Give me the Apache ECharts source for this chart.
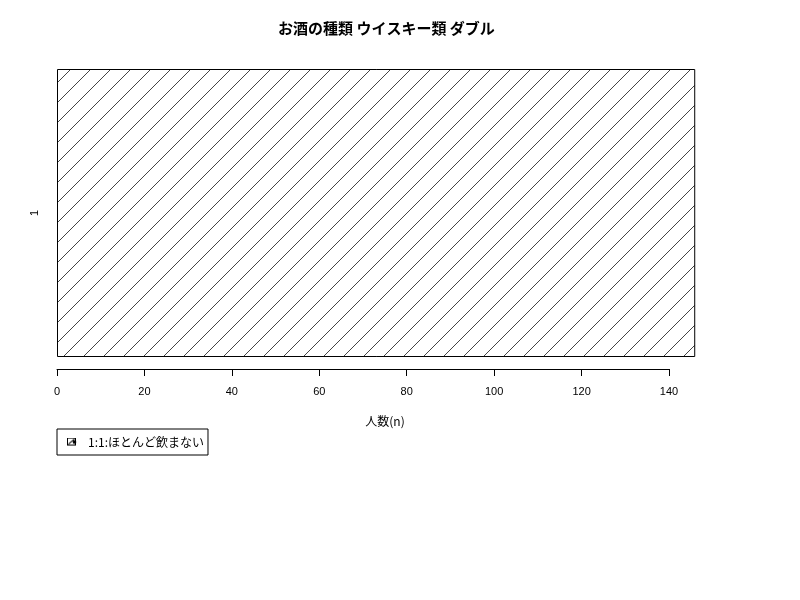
<!DOCTYPE html>
<html><head><meta charset="utf-8">
<script src="https://cdn.jsdelivr.net/npm/echarts@6/dist/echarts.min.js"></script>
<style>html,body{margin:0;padding:0;background:#fff}#c{width:800px;height:600px}</style>
</head><body><div id="c"></div>
<script>
const categories = ['1'];
const values = [146];
const seriesName = '1:1:ほとんど飲まない';
const xTicksMax = 140;
const xInterval = 20;
const titleText = 'お酒の種類 ウイスキー類 ダブル';
const xAxisName = '人数(n)';

function hatch(size){
  const c = document.createElement('canvas');
  c.width = size; c.height = size;
  const g = c.getContext('2d');
  g.fillStyle = '#fff'; g.fillRect(0,0,size,size);
  g.strokeStyle = '#444'; g.lineWidth = 1;
  g.beginPath();
  g.moveTo(-2, size+2); g.lineTo(size+2, -2);
  g.moveTo(-2, 2); g.lineTo(2, -2);
  g.moveTo(size-2, size+2); g.lineTo(size+2, size-2);
  g.stroke();
  return c;
}
function legendIcon(){
  const c = document.createElement('canvas');
  c.width = 20; c.height = 18;
  const g = c.getContext('2d');
  g.fillStyle = '#fff'; g.fillRect(0,0,20,18);
  g.strokeStyle = '#000'; g.lineWidth = 2;
  g.strokeRect(1,1,16,14);
  g.beginPath(); g.moveTo(3,13); g.lineTo(15,3); g.stroke();
  g.fillStyle = '#000';
  g.beginPath(); g.arc(15,9,3.5,0,Math.PI*2); g.fill();
  return c.toDataURL();
}
const pat = {image: hatch(20), repeat: 'repeat'};
const pxPerUnit = (669-57)/140;
const plotRight = 57 + values[0]*pxPerUnit;
const font = 'Liberation Sans, Arial, sans-serif';
const cjk = 'Noto Sans CJK JP, sans-serif';

const chart = echarts.init(document.getElementById('c'));
chart.setOption({
  animation: false,
  backgroundColor: '#fff',
  graphic: [
    {type: 'text', left: 386 - 108, top: 21,
      style: {text: titleText, font: 'bold 15px ' + cjk, fill: '#000'}},
    {type: 'text', x: 385, y: 421,
      style: {text: xAxisName, font: '12px ' + cjk, fill: '#000', textAlign: 'center', textVerticalAlign: 'middle'}}
  ],
  legend: {
    left: 57, top: 429, orient: 'vertical',
    padding: [7, 4, 7, 10], borderColor: '#000', borderWidth: 1, borderRadius: 0,
    itemWidth: 10, itemHeight: 9, itemGap: 5,
    textStyle: {fontFamily: cjk, fontSize: 12, color: '#000', padding: [0,0,0,6]},
    data: [{name: seriesName, icon: 'image://' + legendIcon()}]
  },
  grid: [
    {left: 57, right: 800 - plotRight, top: 69, bottom: 600 - 357},
    {left: 57, right: 800 - 669, top: 300, bottom: 600 - 369}
  ],
  xAxis: [
    {gridIndex: 0, type: 'value', min: 0, max: values[0], show: false, splitLine: {show: false}},
    {gridIndex: 1, type: 'value', min: 0, max: xTicksMax, interval: xInterval,
      axisLine: {show: true, lineStyle: {color: '#000', width: 1}},
      axisTick: {show: true, length: 7, lineStyle: {color: '#000'}},
      axisLabel: {fontFamily: font, fontSize: 11, color: '#000', margin: 17, showMinLabel: true, showMaxLabel: true},
      splitLine: {show: false}}
  ],
  yAxis: [
    {gridIndex: 0, type: 'category', data: categories,
      axisLine: {show: false}, axisTick: {show: false},
      axisLabel: {rotate: 90, margin: 17, fontFamily: font, fontSize: 11, color: '#000'}},
    {gridIndex: 1, type: 'value', show: false}
  ],
  series: [{
    name: seriesName, type: 'bar', xAxisIndex: 0, yAxisIndex: 0,
    data: values, barWidth: '100%',
    itemStyle: {color: pat, borderColor: '#000', borderWidth: 1}
  }]
});
</script></body></html>
